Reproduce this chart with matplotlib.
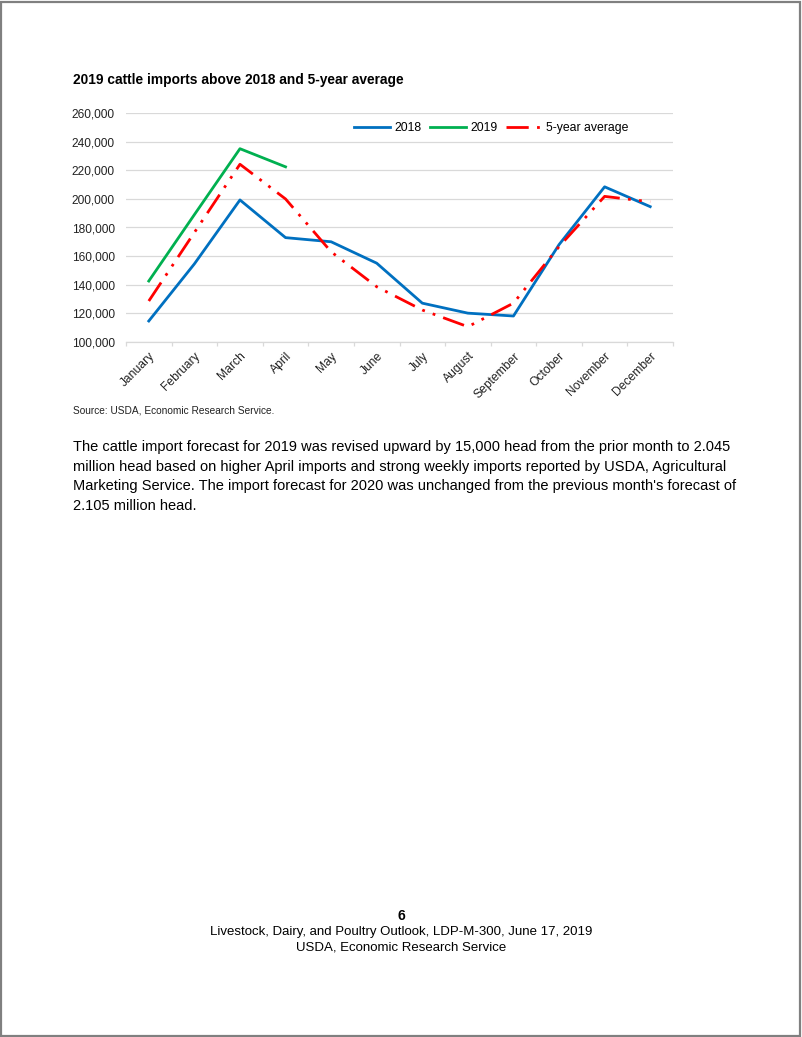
import matplotlib
matplotlib.use("Agg")
import matplotlib.pyplot as plt
from matplotlib.patches import Rectangle

months = ["January", "February", "March", "April", "May", "June", "July",
          "August", "September", "October", "November", "December"]
y2018 = [114500, 154500, 199300, 172900, 170000, 155000, 127000, 120000,
         118000, 168000, 208500, 194600]
y2019 = [142500, 189000, 235200, 222500]
y5avg = [128500, 176500, 224300, 200000, 163000, 138500, 122200, 110500,
         127000, 166600, 201800, 198000]
yticks = [100000, 120000, 140000, 160000, 180000, 200000, 220000, 240000, 260000]

plt.rcParams['font.family'] = ['Liberation Sans', 'DejaVu Sans']

W, H = 802, 1037
fig = plt.figure(figsize=(W / 100, H / 100), dpi=100)

# page border
fig.patches.append(Rectangle((0.001, 0.001), 0.997, 0.997, transform=fig.transFigure,
                             fill=False, edgecolor='#808080', lw=1.6))

left, right, top, bottom = 126, 673, 113.3, 341.7
ax = fig.add_axes([left / W, 1 - bottom / H, (right - left) / W, (bottom - top) / H])

x = list(range(len(months)))
ax.plot(x, y2018, color='#0070C0', lw=2.0, label='2018')
ax.plot(x[:len(y2019)], y2019, color='#00B050', lw=2.0, label='2019')
ax.plot(x, y5avg, color='#FF0000', lw=2.0, label='5-year average',
        linestyle=(0, (8, 3, 1, 3, 1, 3)), dash_capstyle='butt')

ax.set_xlim(-0.5, len(months) - 0.5)
ax.set_ylim(100000, 260000)
ax.set_yticks(yticks)
ax.set_yticklabels([f"{v:,}" for v in yticks])
ax.yaxis.grid(True, color='#d9d9d9', lw=0.9)
ax.set_axisbelow(True)
for s in ['top', 'right', 'left']:
    ax.spines[s].set_visible(False)
ax.spines['bottom'].set_color('#d9d9d9')
ax.spines['bottom'].set_linewidth(0.9)
ax.tick_params(axis='y', length=0, labelsize=8.6, pad=8, labelcolor='#222222')

ax.set_xticks(x)
ax.set_xticklabels(months, rotation=45, ha='right', rotation_mode='anchor',
                   fontsize=8.7, color='#222222')
ax.tick_params(axis='x', which='major', length=0, pad=6)
ax.set_xticks([i - 0.5 for i in range(len(months) + 1)], minor=True)
ax.tick_params(axis='x', which='minor', length=3, color='#d9d9d9', width=0.9)

ax.legend(loc='center', bbox_to_anchor=(0.668, 0.935), ncol=3, frameon=False,
          fontsize=8.8, handlelength=2.9, columnspacing=0.75, handletextpad=0.35)

fig.text(73 / W, 1 - 80 / H, "2019 cattle imports above 2018 and 5-year average",
         fontsize=9.9, fontweight='bold', va='center', ha='left')
fig.text(73 / W, 1 - 410 / H, "Source: USDA, Economic Research Service.",
         fontsize=7.3, va='center', ha='left', color='#222222')

body = ("The cattle import forecast for 2019 was revised upward by 15,000 head from the prior month to 2.045\n"
        "million head based on higher April imports and strong weekly imports reported by USDA, Agricultural\n"
        "Marketing Service. The import forecast for 2020 was unchanged from the previous month's forecast of\n"
        "2.105 million head.")
fig.text(73 / W, 1 - 440 / H, body, fontsize=10.5, va='top', ha='left', linespacing=1.52)

fig.text(401 / W, 1 - 916 / H, "6", fontsize=10, fontweight='bold', ha='center', va='center')
fig.text(401 / W, 1 - 932 / H, "Livestock, Dairy, and Poultry Outlook, LDP-M-300, June 17, 2019",
         fontsize=9.5, ha='center', va='center')
fig.text(401 / W, 1 - 947 / H, "USDA, Economic Research Service",
         fontsize=9.5, ha='center', va='center')

fig.savefig("out.png", dpi=100)
